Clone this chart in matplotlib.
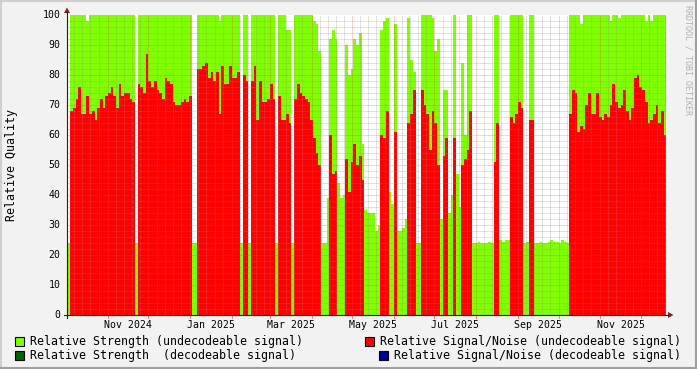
import numpy as np
import matplotlib
matplotlib.use("Agg")
import matplotlib.pyplot as plt
from matplotlib.patches import Rectangle, Polygon
from matplotlib.lines import Line2D

nan = np.nan

# one rrd row every 2 days, first row on 2024-10-02 (day 0 = 2024-10-01)
origin = np.datetime64("2024-10-01")
first_row = np.datetime64("2024-10-02")
step_days = 2

# Relative Strength (undecodeable signal)
strength = [
    24, 100, 100, 100, 100, 100, 100, 98, 100, 100,
    100, 100, 100, 100, 100, 100, 100, 100, 100, 100,
    100, 100, 100, 100, 100, 24, 100, 100, 100, 100,
    100, 100, 100, 100, 100, 100, 100, 100, 100, 100,
    100, 100, 100, 100, 100, 100, 24, 24, 100, 100,
    100, 100, 100, 100, 100, 100, 98, 100, 100, 100,
    100, 100, 100, 100, 24, 100, 100, 24, 100, 100,
    100, 100, 100, 100, 100, 100, 100, 24, 100, 100,
    100, 95, 95, 24, 100, 100, 100, 100, 100, 100,
    100, 98, 97, 88, 24, 24, 39, 92, 95, 92,
    44, 39, 40, 90, 80, 82, 92, 90, 94, 57,
    35, 34, 34, 34, 28, 30, 95, 98, 99, 41,
    37, 97, 28, 28, 29, 32, 99, 85, 81, 24,
    24, 100, 100, 100, 100, 99, 88, 92, 32, 75,
    75, 34, 40, 100, 47, 36, 84, 60, 100, 100,
    24, 24, 24.5, 24, 24, 24, 24.5, 24, 100, 100,
    25, 24.5, 25, 25, 100, 100, 100, 100, 100, 24,
    24.5, 100, 100, 24, 24, 24.5, 24, 24, 24.5, 25,
    24.5, 24.5, 24, 25, 24.5, 24, 100, 100, 100, 100,
    97, 100, 100, 100, 100, 100, 100, 100, 100, 100,
    100, 98, 100, 100, 99, 100, 100, 100, 100, 100,
    100, 100, 100, 100, 98, 100, 98, 100, 100, 100,
    100, 100,
]

# Relative Signal/Noise (undecodeable signal)
snr = [
    nan, 68, 69, 72, 76, 67, 67, 73, 67, 68,
    65, 69, 72, 69, 73, 74, 76, 73, 69, 77,
    73, 74, 74, 72, 71, nan, 77, 76, 74, 87,
    78, 76, 78, 75, 74, 72, 79, 78, 77, 71,
    70, 70, 71, 72, 71, 73, nan, nan, 82, 82,
    83, 84, 79, 81, 78, 81, 67, 83, 77, 77,
    83, 79, 79, 81, nan, 80, 78, nan, 78, 83,
    65, 78, 71, 71, 72, 77, 72, nan, 73, 65,
    65, 67, 64, nan, 72, 77, 74, 73, 72, 71,
    65, 59, 54, 50, nan, nan, nan, 60, 47, 48,
    nan, nan, nan, 52, 41, 51, 57, 50, 53, 45,
    nan, nan, nan, nan, nan, nan, 60, 59, 68, nan,
    nan, 61, nan, nan, nan, nan, 64, 67, 75, nan,
    nan, 75, 70, 67, 55, 68, 64, 50, nan, 53,
    59, nan, nan, 59, nan, nan, 50, 52, 55, 68,
    nan, nan, nan, nan, nan, nan, nan, nan, 51, 64,
    nan, nan, nan, nan, 66, 64, 67, 71, 69, nan,
    nan, 65, 65, nan, nan, nan, nan, nan, nan, nan,
    nan, nan, nan, nan, nan, nan, 67, 75, 74, 61,
    63, 62, 70, 74, 67, 67, 74, 66, 65, 67,
    66, 70, 77, 71, 69, 70, 75, 68, 65, 69,
    79, 80, 76, 75, 71, 64, 65, 67, 70, 64,
    68, 60,
]

month_starts = np.arange("2024-11", "2026-01", dtype="datetime64[M]")
label_months = ["2024-11", "2025-01", "2025-03", "2025-05", "2025-07", "2025-09", "2025-11"]
label_texts = ["Nov 2024", "Jan 2025", "Mar 2025", "May 2025", "Jul 2025", "Sep 2025", "Nov 2025"]

legend_items = [
    ("Relative Strength (undecodeable signal)", "#7FFF00"),
    ("Relative Signal/Noise (undecodeable signal)", "#FF0000"),
    ("Relative Strength  (decodeable signal)", "#006400"),
    ("Relative Signal/Noise (decodeable signal)", "#000099"),
]

# rrdtool default colours
BACK = "#F2F2F2"
SHADEA = "#CFCFCF"
SHADEB = "#9E9E9E"
GRID = (0.56, 0.56, 0.56, 0.8)
MGRID = (0.87, 0.31, 0.31, 0.65)
ARROW = (0.5, 0.12, 0.12)
AXIS = (0.12, 0.12, 0.12)
MONO = "DejaVu Sans Mono"

W, H = 697, 369
plt.rcParams["lines.scale_dashes"] = False


def fx(px):
    return px / W


def fy(py):
    return 1 - py / H


fig = plt.figure(figsize=(W / 100, H / 100), dpi=100, facecolor=BACK)
ax = fig.add_axes([fx(67), fy(315), 599 / W, 300 / H])
ax.set_facecolor("white")
x_lo, x_hi = 0.6, 444.7
ax.set_xlim(x_lo, x_hi)
ax.set_ylim(0, 100)
for s in ax.spines.values():
    s.set_visible(False)
ax.set_xticks([])
ax.set_yticks([])

# data
day0 = (first_row - origin).astype(int)
strength = np.array(strength, dtype=float)
snr = np.array(snr, dtype=float)
x = day0 + step_days * np.arange(len(strength))

m = ~np.isnan(strength)
ax.bar(x[m], strength[m], width=step_days, align="edge", color="#7FFF00",
       linewidth=0, antialiased=False, zorder=1)
m = ~np.isnan(snr)
ax.bar(x[m], snr[m], width=step_days, align="edge", color="#FF0000",
       linewidth=0, antialiased=False, zorder=2)

# grid, drawn on top like rrdtool
dash = (0, (0.72, 0.72))
for v in range(2, 100, 2):
    if v % 10:
        ax.axhline(v, color=GRID, lw=0.45, ls=dash, zorder=5)
for v in range(10, 100, 10):
    ax.axhline(v, color=MGRID, lw=0.55, ls=dash, zorder=6)

month_days = (month_starts.astype("datetime64[D]") - origin).astype(int)
prev = (np.datetime64("2024-10-01") - origin).astype(int)
for d in [prev] + list(month_days):
    for k in (6, 12, 18, 24):
        if x_lo < d + k < x_hi:
            ax.axvline(d + k, color=GRID, lw=0.45, ls=dash, zorder=5)
for d in month_days:
    ax.axvline(d, color=MGRID, lw=0.55, ls=dash, zorder=6)

# x labels, centred on the middle of the month
xt = ax.get_xaxis_transform()
for mo, txt in zip(label_months, label_texts):
    a = np.datetime64(mo, "M")
    d0 = (a.astype("datetime64[D]") - origin).astype(int)
    d1 = ((a + 1).astype("datetime64[D]") - origin).astype(int)
    ax.text((d0 + d1) / 2, -9.8 / 300, txt, transform=xt, ha="center", va="center",
            fontsize=7.1, family=MONO, color="black")

# month tick marks below the axis
for d in month_days:
    ax.plot([d, d], [0, -3 / 300], transform=xt, color=MGRID, lw=0.7,
            clip_on=False, zorder=7)

# y labels
for v in range(0, 101, 10):
    fig.text(fx(60.5), fy(315 - 3 * v), str(v), ha="right", va="center",
             fontsize=7.1, family=MONO, color="black")

# axes with arrows
fig.add_artist(Line2D([fx(64), fx(668)], [fy(315), fy(315)], color=AXIS, lw=0.8))
fig.add_artist(Line2D([fx(67), fx(67)], [fy(318), fy(12)], color=AXIS, lw=0.8))
fig.add_artist(Polygon([[fx(668), fy(312)], [fx(668), fy(318)], [fx(673.5), fy(315)]],
                       closed=True, color=ARROW, lw=0))
fig.add_artist(Polygon([[fx(64), fy(13)], [fx(70), fy(13)], [fx(67), fy(7.5)]],
                       closed=True, color=ARROW, lw=0))

# axis title and watermark
fig.text(fx(12), fy(165), "Relative Quality", rotation=90, ha="center", va="center",
         fontsize=8.4, family=MONO, color="black")
fig.text(fx(688), fy(60), "RRDTOOL / TOBI OETIKER", rotation=270, ha="center",
         va="center", fontsize=6, family=MONO, color="#B0B0B0")

# legend
rows = [341, 355]
box_x = [15, 365, 15, 379]
txt_x = [30, 380, 30, 394]
for i, (label, col) in enumerate(legend_items):
    yc = rows[i // 2]
    fig.add_artist(Rectangle((fx(box_x[i]), fy(yc + 4.5)), 9 / W, 9 / H,
                             facecolor=col, edgecolor="black", lw=0.8))
    fig.text(fx(txt_x[i]), fy(yc), label, ha="left", va="center",
             fontsize=8.42, family=MONO, color="black")

# 3d frame
fig.add_artist(Line2D([0, 1], [fy(0.5), fy(0.5)], color=SHADEA, lw=1.5))
fig.add_artist(Line2D([fx(0.5), fx(0.5)], [0, 1], color=SHADEA, lw=1.5))
fig.add_artist(Line2D([0, 1], [fy(368), fy(368)], color=SHADEB, lw=1.5))
fig.add_artist(Line2D([fx(696), fx(696)], [0, 1], color=SHADEB, lw=1.5))

fig.savefig("out.png", dpi=100, facecolor=BACK)
